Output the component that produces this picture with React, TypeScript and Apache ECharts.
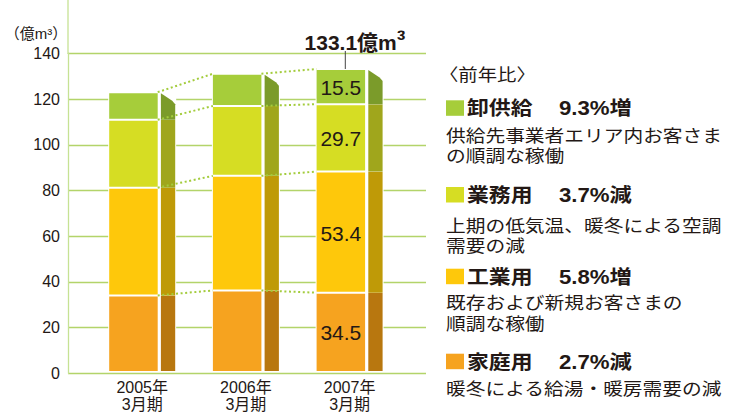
import React, { useEffect, useRef } from 'react';
import * as echarts from 'echarts';

const categories = ['2005年\n3月期', '2006年\n3月期', '2007年\n3月期'];
const segmentNames = ['家庭用', '工業用', '業務用', '卸供給'];
const household = [33.3, 35.5, 34.5];
const industrial = [47.5, 50.5, 53.4];
const commercial = [29.9, 30.8, 29.7];
const wholesale = [12.2, 14.2, 15.5];
const yMin = 0;
const yMax = 140;
const yInterval = 20;
const unitLabel = '（億m³）';
const legendTitle = '〈前年比〉';
const legendNames = ['卸供給', '業務用', '工業用', '家庭用'];
const legendPct = ['9.3%増', '3.7%減', '5.8%増', '2.7%減'];
const legendDesc = [
  ['供給先事業者エリア内お客さま', 'の順調な稼働'],
  ['上期の低気温、暖冬による空調', '需要の減'],
  ['既存および新規お客さまの', '順調な稼働'],
  ['暖冬による給湯・暖房需要の減'],
];

const frontColors = ['#f6a31f', '#fec80b', '#d6dd23', '#a6cd3a'];
const sideColors = ['#b8770f', '#bf9a07', '#a0a61c', '#7b9b2a'];
const legendColors = ['#a6cd3a', '#d6dd23', '#fec80b', '#f6a31f'];
const FONT = "'Liberation Sans', 'Noto Sans CJK JP', sans-serif";
const TEXT = '#231815';

export default function App() {
  const ref = useRef<HTMLDivElement>(null);
  useEffect(() => {
    if (!ref.current) return;
    const chart = echarts.init(ref.current, null, { renderer: 'svg' });
    const segs = [household, industrial, commercial, wholesale];
    const n = categories.length;
    const cum: number[][] = [];
    segs.forEach((arr, s) => {
      cum.push(arr.map((v, i) => (s === 0 ? 0 : cum[s - 1][i]) + v));
    });
    const lastIdx = n - 1;
    const total = cum[3][lastIdx];

    const makeRender = (s: number) => (params: any, api: any) => {
      const i = api.value(0);
      const b = api.value(1);
      const t = api.value(2);
      const v = api.value(3);
      const pt = api.coord([i, t]);
      const pb = api.coord([i, b]);
      const cx = pt[0];
      const yt = pt[1];
      const yb = pb[1];
      const fL = cx - 33, fR = cx + 15.5, sL = cx + 18.7, sR = cx + 33;
      const isTop = s === 3;
      const children: any[] = [];
      children.push({ type: 'rect', shape: { x: fL - 1, y: yt - 1, width: sR - fL + 2, height: yb - yt + 1 }, style: { fill: '#ffffff' } });
      children.push({ type: 'rect', shape: { x: fL, y: yt + 1, width: fR - fL, height: Math.max(0, yb - yt - (s === 0 ? 1 : 2)) }, style: { fill: frontColors[s] } });
      const pts = isTop
        ? [[sL, yt + 1], [sR - 3, yt + 8.5], [sR, yt + 12], [sR, yb], [sL, yb]]
        : [[sL, yt], [sR, yt], [sR, yb], [sL, yb]];
      children.push({ type: 'polygon', shape: { points: pts }, style: { fill: sideColors[s] } });
      if (i === lastIdx) {
        children.push({
          type: 'text',
          style: { text: v.toFixed(1), x: (fL + fR) / 2, y: (yt + yb) / 2 + 1, align: 'center', verticalAlign: 'middle', fontSize: 21, fontFamily: FONT, fill: TEXT },
        });
      }
      return { type: 'group', children };
    };

    const segSeries = segs.map((arr, s) => ({
      type: 'custom',
      name: segmentNames[s],
      xAxisIndex: 1,
      yAxisIndex: 1,
      encode: { x: 0, y: [1, 2] },
      renderItem: makeRender(s),
      data: arr.map((v, i) => [i, cum[s][i] - v, cum[s][i], v]),
      z: 3,
    }));

    const dotData: number[][] = [];
    for (let s = 0; s < 4; s++) {
      for (let i = 0; i < n - 1; i++) dotData.push([i, cum[s][i], cum[s][i + 1]]);
    }
    const dotSeries = {
      type: 'custom',
      xAxisIndex: 1,
      yAxisIndex: 1,
      encode: { x: 0, y: [1, 2] },
      z: 5,
      renderItem: (params: any, api: any) => {
        const i = api.value(0);
        const p1 = api.coord([i, api.value(1)]);
        const p2 = api.coord([i + 1, api.value(2)]);
        return {
          type: 'line',
          shape: { x1: p1[0] + 15.5, y1: p1[1], x2: p2[0] - 33, y2: p2[1] },
          style: { stroke: '#a3cc3c', lineWidth: 2, lineDash: [2, 2.6] },
        };
      },
      data: dotData,
    };

    const totalSeries = {
      type: 'custom',
      xAxisIndex: 1,
      yAxisIndex: 1,
      encode: { x: 0, y: 1 },
      z: 6,
      renderItem: (params: any, api: any) => {
        const p = api.coord([api.value(0), api.value(1)]);
        return {
          type: 'group',
          children: [
            { type: 'line', shape: { x1: p[0] - 4.3, y1: p[1] - 18, x2: p[0] - 4.3, y2: p[1] }, style: { stroke: '#444', lineWidth: 1 } },
            {
              type: 'text',
              style: {
                text: '{a|' + api.value(1).toFixed(1) + '億m}{b|³}',
                x: p[0] + 5.4,
                y: p[1] - 29,
                align: 'center',
                verticalAlign: 'middle',
                rich: {
                  a: { fontSize: 21, fontWeight: 'bold', fontFamily: FONT, fill: TEXT, lineHeight: 26, verticalAlign: 'bottom' },
                  b: { fontSize: 26, fontWeight: 'bold', fontFamily: FONT, fill: TEXT, lineHeight: 26, verticalAlign: 'bottom' },
                },
              },
            },
          ],
        };
      },
      data: [[lastIdx, total]],
    };

    const graphics: any[] = [];
    graphics.push({ type: 'line', shape: { x1: 68, y1: 0, x2: 68, y2: 54 }, style: { stroke: '#c6e294', lineWidth: 1.3 } });
    graphics.push({ type: 'text', x: 36, y: 33, style: { text: unitLabel, align: 'center', verticalAlign: 'middle', fontSize: 15, fontFamily: FONT, fill: TEXT } });
    graphics.push({ type: 'text', x: 439, y: 75, scaleX: 1.14, style: { text: legendTitle, align: 'left', verticalAlign: 'middle', fontSize: 17, fontFamily: FONT, fill: TEXT } });
    const titleY = [108.3, 195, 276.7, 361.7];
    const descY = [[135.8, 155.8], [225.8, 245.8], [302.8, 323.5], [389.2]];
    legendNames.forEach((nm, k) => {
      graphics.push({ type: 'rect', shape: { x: 446, y: titleY[k] - 8, width: 18, height: 15.5 }, style: { fill: legendColors[k] } });
      graphics.push({ type: 'text', x: 467, y: titleY[k], scaleX: 1.12, style: { text: nm, align: 'left', verticalAlign: 'middle', fontSize: 19.5, fontWeight: 'bold', fontFamily: FONT, fill: TEXT } });
      graphics.push({ type: 'text', x: 559, y: titleY[k], scaleX: 1.14, style: { text: legendPct[k], align: 'left', verticalAlign: 'middle', fontSize: 19.5, fontWeight: 'bold', fontFamily: FONT, fill: TEXT } });
      legendDesc[k].forEach((line, j) => {
        graphics.push({ type: 'text', x: 446, y: descY[k][j], scaleX: 1.16, style: { text: line, align: 'left', verticalAlign: 'middle', fontSize: 17, fontFamily: FONT, fill: TEXT } });
      });
    });

    const top = 53.33;
    const bottom = 413 - 373.33;
    chart.setOption({
      animation: false,
      backgroundColor: '#ffffff',
      grid: [
        { left: 68, right: 731 - 426, top, bottom },
        { left: 90.35, right: 731 - 401.45, top, bottom },
      ],
      xAxis: [
        { type: 'category', gridIndex: 0, data: categories, show: false },
        {
          type: 'category',
          gridIndex: 1,
          data: categories,
          axisLine: { show: false },
          axisTick: { show: false },
          splitLine: { show: false },
          axisLabel: { fontSize: 16, lineHeight: 17, margin: 8, color: TEXT, fontFamily: FONT },
        },
      ],
      yAxis: [
        {
          type: 'value',
          gridIndex: 0,
          min: yMin,
          max: yMax,
          interval: yInterval,
          axisLine: { show: true, lineStyle: { color: '#c6e294', width: 1.3 } },
          axisTick: { show: false },
          axisLabel: { fontSize: 16, margin: 8, color: TEXT, fontFamily: FONT },
          splitLine: { show: true, lineStyle: { color: '#b3d46a', width: 1.4 } },
        },
        { type: 'value', gridIndex: 1, min: yMin, max: yMax, interval: yInterval, show: false, splitLine: { show: false } },
      ],
      series: [...segSeries, dotSeries, totalSeries],
      graphic: graphics,
    });
    return () => chart.dispose();
  }, []);
  return <div ref={ref} style={{ position: 'fixed', left: 0, top: 0, width: 731, height: 413 }} />;
}
